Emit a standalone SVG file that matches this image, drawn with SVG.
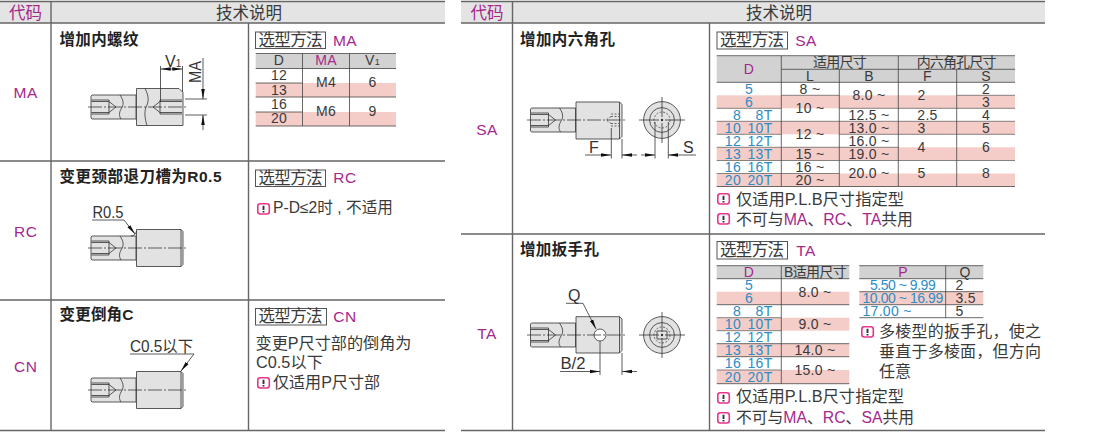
<svg xmlns="http://www.w3.org/2000/svg" xmlns:xlink="http://www.w3.org/1999/xlink" width="1110" height="433" viewBox="0 0 1110 433">
<style>
text{font-family:"Liberation Sans","Noto Sans CJK SC",sans-serif;fill:#3a3a3a}
.h{font-size:16.5px}
.c{text-anchor:middle}
.p{fill:#a5288c}
.b{fill:#2d8cc4}
.code{font-size:15.5px;fill:#a5288c;text-anchor:middle;letter-spacing:.5px}
.t{font-size:15.5px;font-weight:700;fill:#222}
.s{font-size:16.5px}
.sel{fill:#fff;stroke:#555;stroke-width:1}
.d{font-size:14px;letter-spacing:.3px}
.m{font-size:16px}
.dim{font-size:16px;fill:#333}
.tl{stroke:#666;stroke-width:1.5;fill:none}
.tv{stroke:#666;stroke-width:1.4;fill:none}
.gh{fill:#e4e4e4}
.th{fill:#d2d2d2}
.pk{fill:#f5cdc8}
.ln{stroke:#444;stroke-width:.8;fill:none}
.lf{stroke:#555;stroke-width:.7;fill:none}
.o{stroke:#333;stroke-width:.8;fill:#e2e2e2}
.o2{stroke:#333;stroke-width:.8;fill:none}
.ch{stroke:#222;stroke-width:.7;fill:none;stroke-dasharray:14 2 2 2}
.dsh{stroke:#333;stroke-width:.7;fill:none;stroke-dasharray:2 1.5}
.di{stroke:#333;stroke-width:.8;fill:none}
</style>
<defs>
<marker id="ah" markerWidth="11" markerHeight="6" refX="10" refY="2.5" orient="auto" markerUnits="userSpaceOnUse" viewBox="0 0 11 5"><path d="M0 .7L10 2.500L0 4.300Z" fill="#111"/></marker>
<g id="warn"><rect x=".8" y=".8" width="11.500" height="10.200" rx="2.400" fill="#fff" stroke="#e8348c" stroke-width="1.600"/><path d="M6.500 2.800V7M6.500 8V9.400" stroke="#333" stroke-width="1.900" fill="none"/></g>
<g id="tail">
<path class="o" d="M1 -12H45V12H1L0 11V-11Z"/>
<path class="o2" d="M.5 -7H18V7H.5M.5 -5.500H18M.5 5.500H18M18 -5.500L25 0L18 5.500"/>
<path class="o2" d="M29 -12C33 -6 33 -2 30 2C28 6 28 9 30 12"/>
</g>
<g id="head">
<path class="o" d="M45.500 -18.500H90L92 -16.500V16.500L90 18.500H45.500Z"/>
<path class="o2" d="M90 -18.500V18.500"/>
</g>
<g id="cross">
<circle r="18.400" class="o"/><circle r="12.400" class="o2"/><circle r="8" class="dsh"/><circle r="1.200" fill="#333"/>
<path class="o2" d="M-23 0H-3M3 0H23M0 -23V-3M0 3V23"/>
</g>
</defs>

<g id="table-left">
<rect class="gh" x="0" y="2" width="445" height="21"/>
<path class="tl" d="M0 1.500H445M0 23H445M0 161H445M0 300H445M0 430.500H445"/>
<path class="tv" d="M51 1V431M248.500 23V431"/>
<text class="h p c" x="25.500" y="18.500">代码</text>
<text class="h c" x="249" y="18.500">技术说明</text>
</g>

<g id="table-right">
<rect class="gh" x="461" y="2" width="584" height="21"/>
<path class="tl" d="M461 1.500H1045M461 23H1045M461 234H1045M461 430.500H1045"/>
<path class="tv" d="M512.500 1V431M709.500 23V431"/>
<text class="h p c" x="487" y="18.500">代码</text>
<text class="h c" x="779" y="18.500">技术说明</text>
</g>

<g id="row-MA">
<text class="code" x="25.700" y="98">MA</text>
<text class="t" x="59.500" y="45" textLength="79">增加内螺纹</text>
<use xlink:href="#tail" href="#tail" x="91" y="107"/>
<path class="o" d="M136.500 88.500H179L183 92.500V125.500H136.500Z"/>
<path class="o2" d="M145 88.500C149 96 149 102 146 107C144 113 145 119 147 125.500"/>
<path class="o2" d="M182 100H160V114H182M182 101.500H160M182 112.500H160M160 101.500L153 107L160 112.500"/>
<path class="ch" d="M88 107H186"/>
<path class="di" d="M160.500 66V102M182.500 66V92M185 99H207M185 115H207"/>
<path class="di" d="M171 69H160.700" marker-end="url(#ah)"/>
<path class="di" d="M171 69H182.300" marker-end="url(#ah)"/>
<path class="di" d="M203 58V99" marker-end="url(#ah)"/>
<path class="di" d="M203 130V115" marker-end="url(#ah)"/>
<text class="dim" x="165" y="66.500">V<tspan font-size="10">1</tspan></text>
<text class="dim p" transform="translate(201 83) rotate(-90)" textLength="22" lengthAdjust="spacingAndGlyphs">MA</text>
<rect class="sel" x="255.500" y="32" width="70" height="16.500"/>
<text class="s" x="258.500" y="45.500" textLength="64">选型方法</text>
<text class="code" x="345" y="45.500">MA</text>
<rect class="th" x="255.700" y="54" width="140.300" height="14.500"/>
<rect class="pk" x="255.700" y="83" width="140.300" height="14"/>
<rect class="pk" x="255.700" y="112" width="140.300" height="14"/>
<path class="ln" d="M255.700 53.500H396M255.700 68.500H396M255.700 97H396M255.700 126H396M255.700 83H302.500M255.700 112H302.500"/>
<path class="ln" d="M302.500 53.500V126M349.500 53.500V126"/>
<text class="d c" x="279" y="65.300">D</text><text class="d c p" x="326" y="65.300">MA</text><text class="d c" x="372.500" y="65.300">V<tspan font-size="9">1</tspan></text>
<text class="d c" x="279" y="80">12</text><text class="d c" x="279" y="94.700">13</text><text class="d c" x="279" y="109">16</text><text class="d c" x="279" y="123.300">20</text>
<text class="d c" x="326" y="87.300">M4</text><text class="d c" x="372.500" y="87.300">6</text>
<text class="d c" x="326" y="116.300">M6</text><text class="d c" x="372.500" y="116.300">9</text>
</g>

<g id="row-RC">
<text class="code" x="25.700" y="236.700">RC</text>
<text class="t" x="59.500" y="181.700" textLength="162">变更颈部退刀槽为R0.5</text>
<use xlink:href="#tail" href="#tail" x="91" y="248"/>
<use xlink:href="#head" href="#head" x="91" y="248"/>
<path class="o2" d="M131 236C134 236 136 234 136.500 231"/>
<path class="ch" d="M88 248H186"/>
<text class="dim" x="92.500" y="218" textLength="31" lengthAdjust="spacingAndGlyphs">R0.5</text>
<path class="di" d="M92 220H124L135 234" marker-end="url(#ah)"/>
<rect class="sel" x="255.500" y="170" width="70" height="16.500"/>
<text class="s" x="258.500" y="183.800" textLength="64">选型方法</text>
<text class="code" x="345" y="183">RC</text>
<use xlink:href="#warn" href="#warn" x="257" y="203"/>
<text class="m" x="273" y="213.300" textLength="120" lengthAdjust="spacingAndGlyphs">P-D≤2时 , 不适用</text>
</g>

<g id="row-CN">
<text class="code" x="25.700" y="371.700">CN</text>
<text class="t" x="59.500" y="320" textLength="74">变更倒角C</text>
<use xlink:href="#tail" href="#tail" x="91" y="390"/>
<use xlink:href="#head" href="#head" x="91" y="390"/>
<path class="ch" d="M88 390H186"/>
<text class="dim" x="130" y="351.500" textLength="63" lengthAdjust="spacingAndGlyphs">C0.5以下</text>
<path class="di" d="M130 354H194L181 371" marker-end="url(#ah)"/>
<rect class="sel" x="255.500" y="308.500" width="71" height="16.500"/>
<text class="s" x="258.500" y="322.300" textLength="64">选型方法</text>
<text class="code" x="345" y="322">CN</text>
<text class="m" x="255.500" y="349.300" textLength="156" lengthAdjust="spacingAndGlyphs">变更P尺寸部的倒角为</text>
<text class="m" x="256" y="368.300" textLength="67" lengthAdjust="spacingAndGlyphs">C0.5以下</text>
<use xlink:href="#warn" href="#warn" x="257" y="377"/>
<text class="m" x="273" y="388" textLength="107" lengthAdjust="spacingAndGlyphs">仅适用P尺寸部</text>
</g>

<g id="row-SA">
<text class="code" x="487" y="135">SA</text>
<text class="t" x="520" y="44.500" textLength="95">增加内六角孔</text>
<use xlink:href="#tail" href="#tail" x="530.500" y="120"/>
<path class="o" d="M576 102H619.500L622 104.500V136.500L619.500 139H576Z"/>
<path class="o2" d="M619.500 102V139"/>
<path class="dsh" d="M611 114H621M611 126H621M611 116.500H619M611 123.500H619M611 116.500L606 120L611 123.500"/>
<path class="ch" d="M527 120H626"/>
<use xlink:href="#cross" href="#cross" x="662" y="120"/>
<path class="di" d="M611.300 128V158.500M622 139V158.500M655 122V158.500M668.300 122V158.500"/>
<path class="di" d="M585 155H611" marker-end="url(#ah)"/>
<path class="di" d="M637 155H622" marker-end="url(#ah)"/>
<path class="di" d="M641 155H655" marker-end="url(#ah)"/>
<path class="di" d="M696 155H668.300" marker-end="url(#ah)"/>
<text class="dim" x="589" y="152.500">F</text>
<text class="dim" x="683" y="152.500">S</text>
<rect class="sel" x="717" y="32" width="70.500" height="17"/>
<text class="s" x="720" y="46" textLength="64">选型方法</text>
<text class="code" x="806" y="46">SA</text>
<rect class="th" x="716.700" y="56" width="298.300" height="26.300"/>
<rect class="pk" x="716.700" y="95.300" width="298.300" height="13"/>
<rect class="pk" x="716.700" y="121.300" width="298.300" height="13"/>
<rect class="pk" x="716.700" y="147.300" width="298.300" height="13.200"/>
<rect class="pk" x="716.700" y="173.500" width="298.300" height="13"/>
<path class="ln" d="M716.700 55.700H1015M781.300 69.300H1015M716.700 82.300H1015M716.700 186.500H1015"/>
<path class="lf" d="M716.700 108.300H781.300M716.700 121.300H781.300M716.700 134.300H781.300M716.700 147.300H781.300M716.700 160.500H781.300M716.700 173.500H781.300"/>
<path class="lf" d="M781.300 95.300H839.300M781.300 121.300H839.300M781.300 147.300H839.300M781.300 160.500H839.300M781.300 173.500H839.300"/>
<path class="lf" d="M839.300 108.300H1015M839.300 121.300H1015M839.300 134.300H1015M839.300 147.300H898.300M839.300 160.500H1015M956.700 95.300H1015"/>
<path class="ln" d="M781.300 55.700V186.500M839.300 69.300V186.500M898.300 55.700V186.500M956.700 69.300V186.500"/>
<text class="d c p" x="749" y="73.500">D</text>
<text class="d c" x="840" y="67" textLength="54" letter-spacing="0">适用尺寸</text>
<text class="d c" x="956.700" y="67" textLength="80" letter-spacing="0">内六角孔尺寸</text>
<text class="d c" x="810" y="81">L</text><text class="d c" x="869" y="81">B</text><text class="d c" x="927.500" y="81">F</text><text class="d c" x="986" y="81">S</text>
<text class="d c b" x="749" y="93.500">5</text>
<text class="d c b" x="749" y="106.500">6</text>
<text class="d b" text-anchor="end"><tspan x="741" y="119.500">8</tspan><tspan x="772.500" y="119.500">8T</tspan></text>
<text class="d b" text-anchor="end"><tspan x="741" y="132.500">10</tspan><tspan x="772.500" y="132.500">10T</tspan></text>
<text class="d b" text-anchor="end"><tspan x="741" y="145.500">12</tspan><tspan x="772.500" y="145.500">12T</tspan></text>
<text class="d b" text-anchor="end"><tspan x="741" y="158.500">13</tspan><tspan x="772.500" y="158.500">13T</tspan></text>
<text class="d b" text-anchor="end"><tspan x="741" y="171.700">16</tspan><tspan x="772.500" y="171.700">16T</tspan></text>
<text class="d b" text-anchor="end"><tspan x="741" y="184.700">20</tspan><tspan x="772.500" y="184.700">20T</tspan></text>
<text class="d c" x="810" y="93.500">8 ~</text>
<text class="d c" x="810" y="113">10 ~</text>
<text class="d c" x="810" y="139">12 ~</text>
<text class="d c" x="810" y="158.500">15 ~</text>
<text class="d c" x="810" y="171.700">16 ~</text>
<text class="d c" x="810" y="184.700">20 ~</text>
<text class="d c" x="869" y="100">8.0 ~</text>
<text class="d c" x="869" y="119.500">12.5 ~</text>
<text class="d c" x="869" y="132.500">13.0 ~</text>
<text class="d c" x="869" y="145.500">16.0 ~</text>
<text class="d c" x="869" y="158.500">19.0 ~</text>
<text class="d c" x="869" y="178">20.0 ~</text>
<text class="d c" x="921.500" y="100">2</text>
<text class="d c" x="927.500" y="119.500">2.5</text>
<text class="d c" x="921.500" y="132.500">3</text>
<text class="d c" x="921.500" y="152">4</text>
<text class="d c" x="921.500" y="178">5</text>
<text class="d c" x="986" y="93.500">2</text>
<text class="d c" x="986" y="106.500">3</text>
<text class="d c" x="986" y="119.500">4</text>
<text class="d c" x="986" y="132.500">5</text>
<text class="d c" x="986" y="152">6</text>
<text class="d c" x="986" y="178">8</text>
<use xlink:href="#warn" href="#warn" x="717" y="193"/>
<text class="m" x="736" y="204.500" textLength="168" lengthAdjust="spacingAndGlyphs">仅适用P.L.B尺寸指定型</text>
<use xlink:href="#warn" href="#warn" x="717" y="213"/>
<text class="m" x="736" y="224.500" textLength="177" lengthAdjust="spacingAndGlyphs">不可与<tspan class="p">MA</tspan>、<tspan class="p">RC</tspan>、<tspan class="p">TA</tspan>共用</text>
</g>

<g id="row-TA">
<text class="code" x="487" y="338.500">TA</text>
<text class="t" x="520" y="255" textLength="79">增加扳手孔</text>
<use xlink:href="#tail" href="#tail" x="530.500" y="335"/>
<path class="o" d="M576 316.700H619.500L622 319V350.500L619.500 353H576Z"/>
<path class="o2" d="M619.500 316.700V353"/>
<circle cx="600" cy="335" r="6" fill="#fff" stroke="#333" stroke-width=".8"/>
<path class="ch" d="M527 335H626"/>
<use xlink:href="#cross" href="#cross" x="662" y="335"/>
<path class="o2" d="M657 331H667L667 339H657Z"/>
<text class="dim" x="568" y="300.500">Q</text>
<path class="di" d="M566 303.300H583L596 329" marker-end="url(#ah)"/>
<path class="di" d="M600 341V375M622 353V375"/>
<text class="dim" x="560.500" y="369" textLength="25" lengthAdjust="spacingAndGlyphs">B/2</text>
<path class="di" d="M560 371.500H600" marker-end="url(#ah)"/>
<path class="di" d="M637 371.500H622" marker-end="url(#ah)"/>
<rect class="sel" x="717" y="241.500" width="70.500" height="17.500"/>
<text class="s" x="720" y="255.500" textLength="64">选型方法</text>
<text class="code" x="806" y="255.500">TA</text>
<rect class="th" x="716.700" y="265.700" width="132.600" height="13"/>
<rect class="pk" x="716.700" y="291.700" width="132.600" height="13"/>
<rect class="pk" x="716.700" y="317.700" width="132.600" height="13"/>
<rect class="pk" x="716.700" y="343.700" width="132.600" height="13"/>
<rect class="pk" x="716.700" y="370" width="132.600" height="13.700"/>
<path class="ln" d="M716.700 265.700H849.300M716.700 278.700H849.300M716.700 304.700H849.300M716.700 343.700H849.300M716.700 356.700H849.300M716.700 383.700H849.300"/>
<path class="lf" d="M716.700 317.700H781.300M716.700 330.700H781.300M716.700 370H781.300"/>
<path class="ln" d="M781.300 265.700V383.700"/>
<text class="d c p" x="749" y="276.500">D</text>
<text class="d c" x="815.500" y="277" textLength="63" letter-spacing="0">B适用尺寸</text>
<text class="d c b" x="749" y="290">5</text>
<text class="d c b" x="749" y="303">6</text>
<text class="d b" text-anchor="end"><tspan x="741" y="316">8</tspan><tspan x="772.500" y="316">8T</tspan></text>
<text class="d b" text-anchor="end"><tspan x="741" y="329">10</tspan><tspan x="772.500" y="329">10T</tspan></text>
<text class="d b" text-anchor="end"><tspan x="741" y="342">12</tspan><tspan x="772.500" y="342">12T</tspan></text>
<text class="d b" text-anchor="end"><tspan x="741" y="355">13</tspan><tspan x="772.500" y="355">13T</tspan></text>
<text class="d b" text-anchor="end"><tspan x="741" y="368">16</tspan><tspan x="772.500" y="368">16T</tspan></text>
<text class="d b" text-anchor="end"><tspan x="741" y="381.500">20</tspan><tspan x="772.500" y="381.500">20T</tspan></text>
<text class="d c" x="815" y="297">8.0 ~</text>
<text class="d c" x="815" y="329">9.0 ~</text>
<text class="d c" x="815" y="355">14.0 ~</text>
<text class="d c" x="815" y="375">15.0 ~</text>
<rect class="th" x="859.300" y="265.700" width="124" height="13"/>
<rect class="pk" x="859.300" y="291.700" width="124" height="13"/>
<path class="ln" d="M859.300 265.700H983.300M859.300 278.700H983.300M859.300 291.700H983.300M859.300 304.700H983.300M859.300 317.700H983.300M945.700 265.700V317.700"/>
<text class="d c p" x="903" y="276.500">P</text><text class="d c" x="965" y="276.500">Q</text>
<text class="d b" x="870" y="290" textLength="66">5.50 ~ 9.99</text><text class="d" x="955.500" y="290">2</text>
<text class="d b" x="862.500" y="303" textLength="81">10.00 ~ 16.99</text><text class="d" x="955.500" y="303">3.5</text>
<text class="d b" x="862.500" y="316">17.00 ~</text><text class="d" x="955.500" y="316">5</text>
<use xlink:href="#warn" href="#warn" x="861" y="326"/>
<text class="m" x="879" y="336.700" textLength="162">多棱型的扳手孔，使之</text>
<text class="m" x="879" y="356.700" textLength="162">垂直于多棱面，但方向</text>
<text class="m" x="879" y="376.700" textLength="32">任意</text>
<use xlink:href="#warn" href="#warn" x="717" y="392"/>
<text class="m" x="736" y="402" textLength="168" lengthAdjust="spacingAndGlyphs">仅适用P.L.B尺寸指定型</text>
<use xlink:href="#warn" href="#warn" x="717" y="412"/>
<text class="m" x="736" y="423" textLength="178" lengthAdjust="spacingAndGlyphs">不可与<tspan class="p">MA</tspan>、<tspan class="p">RC</tspan>、<tspan class="p">SA</tspan>共用</text>
</g>
</svg>
